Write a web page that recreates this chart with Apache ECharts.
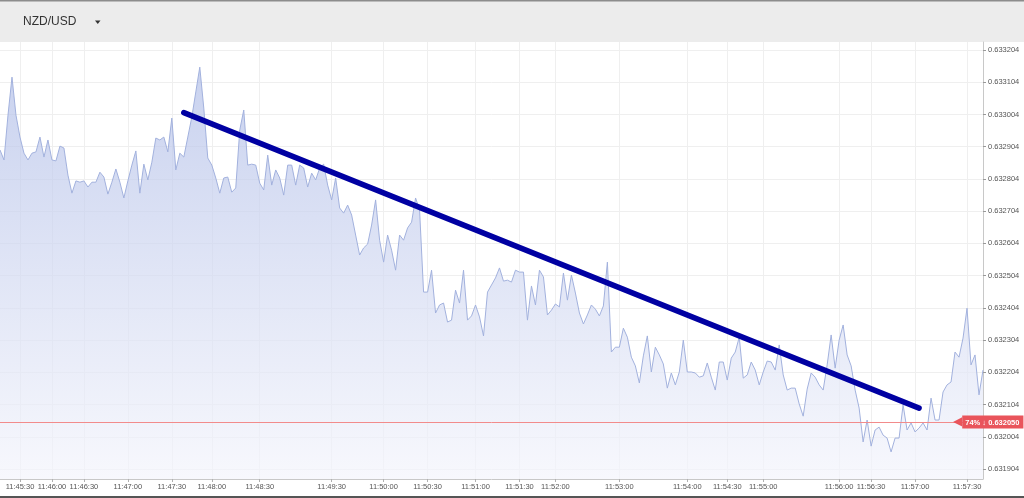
<!DOCTYPE html>
<html><head><meta charset="utf-8">
<script src="https://cdn.jsdelivr.net/npm/echarts@6/dist/echarts.min.js"></script>
<style>html,body{margin:0;padding:0;background:#fff}#c{width:1024px;height:498px}</style>
</head><body><div id="c"></div>
<script>
const symbolName = 'NZD/USD';
const prices = [
0.632894,0.632863,0.633002,0.633120,0.633002,0.632934,0.632884,0.632863,0.632884,0.632888,
0.632934,0.632872,0.632925,0.632863,0.632860,0.632906,0.632900,0.632816,0.632760,0.632798,
0.632794,0.632798,0.632779,0.632794,0.632794,0.632825,0.632810,0.632757,0.632794,0.632835,
0.632794,0.632745,0.632798,0.632847,0.632891,0.632760,0.632850,0.632801,0.632856,0.632931,
0.632925,0.632934,0.632888,0.632993,0.632832,0.632884,0.632872,0.632934,0.632996,0.633074,
0.633151,0.633024,0.632869,0.632847,0.632807,0.632760,0.632807,0.632810,0.632763,0.632776,
0.632956,0.633018,0.632847,0.632850,0.632847,0.632791,0.632770,0.632878,0.632785,0.632832,
0.632807,0.632754,0.632847,0.632847,0.632785,0.632847,0.632838,0.632779,0.632822,0.632801,
0.632838,0.632850,0.632785,0.632739,0.632807,0.632714,0.632698,0.632723,0.632692,0.632630,
0.632568,0.632590,0.632602,0.632661,0.632739,0.632614,0.632546,0.632630,0.632583,0.632521,
0.632630,0.632614,0.632652,0.632670,0.632745,0.632708,0.632453,0.632453,0.632521,0.632388,
0.632413,0.632419,0.632360,0.632366,0.632459,0.632419,0.632521,0.632366,0.632379,0.632413,
0.632376,0.632317,0.632453,0.632475,0.632497,0.632528,0.632487,0.632490,0.632484,0.632521,
0.632515,0.632515,0.632366,0.632472,0.632413,0.632521,0.632500,0.632382,0.632397,0.632416,
0.632407,0.632512,0.632428,0.632506,0.632450,0.632388,0.632354,0.632382,0.632413,0.632400,
0.632379,0.632410,0.632546,0.632267,0.632282,0.632282,0.632341,0.632313,0.632251,0.632224,
0.632171,0.632255,0.632317,0.632205,0.632282,0.632258,0.632230,0.632155,0.632202,0.632165,
0.632205,0.632304,0.632205,0.632205,0.632202,0.632189,0.632193,0.632233,0.632189,0.632149,
0.632236,0.632236,0.632180,0.632248,0.632267,0.632313,0.632186,0.632196,0.632236,0.632211,
0.632165,0.632205,0.632239,0.632236,0.632211,0.632289,0.632196,0.632149,0.632155,0.632155,
0.632106,0.632068,0.632152,0.632202,0.632189,0.632165,0.632149,0.632227,0.632320,0.632217,
0.632304,0.632351,0.632258,0.632224,0.632149,0.632093,0.631988,0.632056,0.631975,0.632025,
0.632034,0.632009,0.632000,0.631957,0.632000,0.632000,0.632103,0.632025,0.632047,0.632019,
0.632031,0.632047,0.632025,0.632124,0.632056,0.632056,0.632143,0.632165,0.632174,0.632267,
0.632251,0.632310,0.632403,0.632227,0.632258,0.632134,0.632211
];
const timeLabels = ['11:45:30','11:46:00','11:46:30','11:47:00','11:47:30','11:48:00','11:48:30',
  '11:49:30','11:50:00','11:50:30','11:51:00','11:51:30','11:52:00','11:53:00','11:54:00',
  '11:54:30','11:55:00','11:56:00','11:56:30','11:57:00','11:57:30'];
const labelIndex = [5,13,21,32,43,53,65,83,96,107,119,130,139,155,172,182,191,210,218,229,242];
const yTicks = [0.631904,0.632004,0.632104,0.632204,0.632304,0.632404,0.632504,
  0.632604,0.632704,0.632804,0.632904,0.633004,0.633104,0.633204];
const yMin = 0.631873, yMax = 0.633229;
const lastPrice = 0.632050;
const lastPct = '74%';
const trendStart = [46, 0.633010];
const trendEnd = [230, 0.632093];

const categories = prices.map((_, i) => {
  const k = labelIndex.indexOf(i);
  return k >= 0 ? timeLabels[k] : '';
});
const showIt = (i, v) => v !== '';
const FONT = 'Liberation Sans, Arial, sans-serif';
const lastX = prices.length - 1;

const chart = echarts.init(document.getElementById('c'), null, {renderer: 'canvas'});
chart.setOption({
  animation: false,
  backgroundColor: '#ffffff',
  grid: {left: 0, right: 41, top: 42, bottom: 19, containLabel: false},
  xAxis: {
    type: 'category',
    data: categories,
    boundaryGap: false,
    axisLine: {show: true, lineStyle: {color: '#c8c8c8', width: 1}},
    axisTick: {show: true, interval: showIt, length: 3, lineStyle: {color: '#b0b0b0'}},
    axisLabel: {interval: showIt, fontSize: 7.5, color: '#555', margin: 4, fontFamily: FONT},
    splitLine: {show: true, interval: showIt, lineStyle: {color: '#efefef', width: 1}}
  },
  yAxis: {
    type: 'value',
    position: 'right',
    min: yMin, max: yMax,
    scale: true,
    axisLine: {show: true, lineStyle: {color: '#c8c8c8', width: 1}},
    axisTick: {show: true, length: 3, customValues: yTicks, lineStyle: {color: '#999'}},
    axisLabel: {customValues: yTicks, fontSize: 7.5, color: '#555', margin: 5, fontFamily: FONT,
      formatter: v => v.toFixed(6)},
    splitLine: {show: true, lineStyle: {color: '#efefef', width: 1}}
  },
  series: [{
    type: 'line',
    data: prices,
    symbol: 'none',
    smooth: false,
    lineStyle: {color: '#a2b1dd', width: 1},
    areaStyle: {
      color: new echarts.graphic.LinearGradient(0, 0, 0, 1, [
        {offset: 0, color: '#b2bfe8'},
        {offset: 1, color: '#f4f5fc'}
      ])
    },
    markLine: {
      silent: true,
      symbol: 'none',
      animation: false,
      data: [
        [
          {coord: [0, lastPrice], lineStyle: {color: '#f28b8b', width: 1, type: 'solid'},
           label: {
             show: true, position: 'end', distance: -30,
             formatter: () => '{arr|◀}{box|' + lastPct + ' ↓ ' + lastPrice.toFixed(6) + '}',
             rich: {
               arr: {color: '#e9545b', fontSize: 12, fontFamily: 'DejaVu Sans'},
               box: {color: '#fff', backgroundColor: '#e9545b', fontSize: 7.5, fontWeight: 'bold',
                     fontFamily: FONT, padding: [3, 4, 2, 3], lineHeight: 8}
             }
           }},
          {coord: [lastX, lastPrice]}
        ],
        [
          {coord: trendStart, lineStyle: {color: '#0000a2', width: 5.5, type: 'solid', cap: 'round'}, label: {show: false}},
          {coord: trendEnd}
        ]
      ]
    }
  }],
  graphic: [
    {type: 'rect', shape: {x: 0, y: 0, width: 1024, height: 42}, style: {fill: '#ececec'}, silent: true},
    {type: 'rect', shape: {x: 0, y: 0, width: 1024, height: 1.5}, style: {fill: '#8c8c8c'}, silent: true},
    {type: 'text', left: 23, top: 16, style: {text: symbolName, fontSize: 12, fill: '#333', fontFamily: FONT}},
    {type: 'polygon', shape: {points: [[95, 20.5], [100.5, 20.5], [97.75, 24]]}, style: {fill: '#333'}},
    {type: 'rect', shape: {x: 0, y: 496, width: 1024, height: 2}, style: {fill: '#555'}, silent: true}
  ]
});
</script></body></html>
